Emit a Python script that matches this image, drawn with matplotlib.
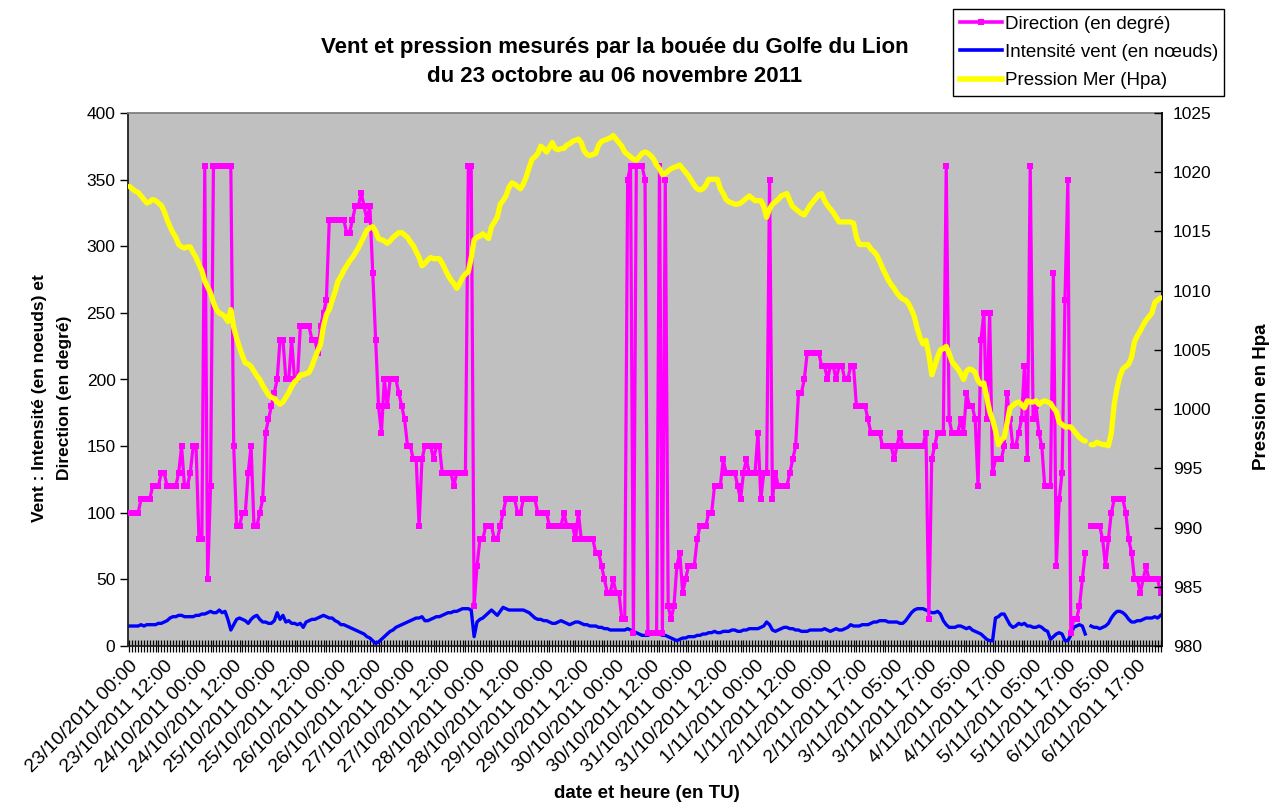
import numpy as np
import matplotlib
matplotlib.use("Agg")
import matplotlib.pyplot as plt
from matplotlib.lines import Line2D

plt.rcParams["font.family"] = ["Liberation Sans", "DejaVu Sans"]

nan = float("nan")

# -----------------------------------------------------------------------------
# Data (one value per hourly record)
# -----------------------------------------------------------------------------

dateLabels = [
    "23/10/2011 00:00", "23/10/2011 12:00", "24/10/2011 00:00", "24/10/2011 12:00",
    "25/10/2011 00:00", "25/10/2011 12:00", "26/10/2011 00:00", "26/10/2011 12:00",
    "27/10/2011 00:00", "27/10/2011 12:00", "28/10/2011 00:00", "28/10/2011 12:00",
    "29/10/2011 00:00", "29/10/2011 12:00", "30/10/2011 00:00", "30/10/2011 12:00",
    "31/10/2011 00:00", "31/10/2011 12:00", "1/11/2011 00:00", "1/11/2011 12:00",
    "2/11/2011 00:00", "2/11/2011 17:00", "3/11/2011 05:00", "3/11/2011 17:00",
    "4/11/2011 05:00", "4/11/2011 17:00", "5/11/2011 05:00", "5/11/2011 17:00",
    "6/11/2011 05:00", "6/11/2011 17:00",
]

direction = [
    100, 100, 100, 100, 110, 110, 110, 110, 120, 120, 120, 130,
    130, 120, 120, 120, 120, 130, 150, 120, 120, 130, 150, 150,
    80, 80, 360, 50, 120, 360, 360, 360, 360, 360, 360, 360,
    150, 90, 90, 100, 100, 130, 150, 90, 90, 100, 110, 160,
    170, 180, 190, 200, 230, 230, 200, 200, 230, 200, 200, 240,
    240, 240, 240, 230, 230, 220, 240, 250, 260, 320, 320, 320,
    320, 320, 320, 310, 310, 320, 330, 330, 340, 330, 320, 330,
    280, 230, 180, 160, 200, 180, 200, 200, 200, 190, 180, 170,
    150, 150, 140, 140, 90, 140, 150, 150, 150, 140, 150, 150,
    130, 130, 130, 130, 120, 130, 130, 130, 130, 360, 360, 30,
    60, 80, 80, 90, 90, 90, 80, 80, 90, 100, 110, 110,
    110, 110, 100, 100, 110, 110, 110, 110, 110, 100, 100, 100,
    100, 90, 90, 90, 90, 90, 100, 90, 90, 90, 80, 100,
    80, 80, 80, 80, 80, 70, 70, 60, 50, 40, 40, 50,
    40, 40, 20, 20, 350, 360, 10, 360, 360, 360, 350, 10,
    10, 10, 10, 360, 10, 350, 30, 20, 30, 60, 70, 40,
    50, 60, 60, 60, 80, 90, 90, 90, 100, 100, 120, 120,
    120, 140, 130, 130, 130, 130, 120, 110, 130, 140, 130, 130,
    130, 160, 110, 130, 130, 350, 110, 130, 120, 120, 120, 120,
    130, 140, 150, 190, 190, 200, 220, 220, 220, 220, 220, 210,
    210, 200, 210, 210, 200, 210, 210, 200, 200, 210, 210, 180,
    180, 180, 180, 170, 160, 160, 160, 160, 150, 150, 150, 150,
    140, 150, 160, 150, 150, 150, 150, 150, 150, 150, 150, 160,
    20, 140, 150, 160, 160, 160, 360, 170, 160, 160, 160, 170,
    160, 190, 180, 180, 170, 120, 230, 250, 170, 250, 130, 140,
    140, 140, 150, 190, 170, 150, 150, 160, 170, 210, 140, 360,
    170, 180, 160, 150, 120, 120, 120, 280, 60, 110, 130, 260,
    350, 10, 20, 20, 30, 50, 70, nan, 90, 90, 90, 90,
    80, 60, 80, 100, 110, 110, 110, 110, 100, 80, 70, 50,
    50, 40, 50, 60, 50, 50, 50, 50, 40,
]

intensity = [
    15, 15, 15, 15, 16, 15, 16, 16, 16, 16, 17, 17,
    18, 19, 21, 22, 22, 23, 23, 22, 22, 22, 22, 23,
    23, 24, 24, 25, 26, 25, 25, 27, 25, 26, 20, 12,
    16, 20, 21, 20, 19, 17, 20, 22, 23, 20, 18, 18,
    17, 17, 19, 25, 20, 23, 18, 19, 17, 17, 16, 17,
    14, 18, 19, 20, 20, 21, 22, 23, 22, 21, 21, 19,
    18, 16, 16, 15, 14, 13, 12, 11, 10, 9, 7, 6,
    4, 2, 3, 5, 7, 9, 11, 12, 14, 15, 16, 17,
    18, 19, 20, 21, 21, 22, 19, 19, 20, 21, 22, 22,
    23, 24, 25, 25, 26, 26, 27, 28, 28, 28, 27, 7,
    18, 20, 21, 23, 25, 27, 25, 23, 26, 29, 28, 27,
    27, 27, 27, 27, 27, 26, 25, 23, 21, 20, 20, 19,
    19, 18, 17, 17, 18, 19, 18, 17, 16, 17, 18, 18,
    17, 16, 16, 15, 15, 15, 14, 14, 13, 13, 12, 12,
    12, 12, 12, 12, 13, 12, 11, 10, 9, 8, 8, 8,
    9, 9, 9, 9, 8, 8, 7, 6, 5, 4, 5, 6,
    6, 7, 7, 7, 8, 8, 9, 9, 10, 10, 11, 10,
    10, 11, 11, 11, 12, 12, 11, 11, 12, 12, 13, 13,
    13, 13, 14, 15, 18, 16, 12, 11, 12, 13, 14, 14,
    13, 13, 12, 12, 11, 11, 11, 12, 12, 12, 12, 12,
    13, 12, 11, 12, 13, 12, 12, 13, 14, 16, 15, 15,
    15, 16, 16, 16, 17, 18, 18, 19, 19, 19, 18, 18,
    18, 18, 17, 17, 19, 22, 25, 27, 28, 28, 28, 27,
    26, 25, 25, 26, 24, 19, 16, 14, 14, 14, 15, 15,
    14, 13, 14, 12, 11, 10, 9, 7, 5, 4, 4, 21,
    22, 24, 24, 20, 16, 14, 15, 17, 16, 17, 15, 15,
    14, 14, 15, 14, 12, 11, 5, 7, 9, 10, 9, 4,
    4, 8, 14, 15, 16, 15, 9, nan, 15, 14, 14, 13,
    14, 15, 17, 21, 24, 26, 26, 25, 23, 20, 18, 18,
    19, 19, 20, 21, 21, 21, 22, 21, 23,
]

pressure = [
    1018.8, 1018.6, 1018.4, 1018.3, 1018.0, 1017.7, 1017.4, 1017.5, 1017.7, 1017.6, 1017.4, 1017.2,
    1016.7, 1016.0, 1015.4, 1014.9, 1014.5, 1013.9, 1013.7, 1013.6, 1013.7, 1013.7, 1013.2, 1012.8,
    1012.2, 1011.7, 1010.8, 1010.3, 1009.8, 1009.0, 1008.4, 1008.1, 1008.0, 1007.8, 1007.4, 1008.4,
    1006.9, 1006.0, 1005.2, 1004.5, 1003.9, 1003.8, 1003.6, 1003.2, 1002.8, 1002.5, 1002.0, 1001.6,
    1001.2, 1001.0, 1000.9, 1000.6, 1000.4, 1000.6, 1001.0, 1001.4, 1001.9, 1002.3, 1002.5, 1002.9,
    1002.9, 1003.0, 1003.1, 1003.6, 1004.3, 1004.9, 1005.5, 1007.0, 1008.0, 1008.4, 1009.2, 1009.9,
    1010.8, 1011.2, 1011.7, 1012.1, 1012.5, 1012.8, 1013.2, 1013.6, 1014.1, 1014.6, 1015.1, 1015.3,
    1015.4, 1015.0, 1014.4, 1014.3, 1014.2, 1014.0, 1014.2, 1014.5, 1014.7, 1014.9, 1014.9, 1014.7,
    1014.5, 1014.1, 1013.8, 1013.3, 1012.8, 1012.1, 1012.3, 1012.6, 1012.8, 1012.7, 1012.7, 1012.7,
    1012.3, 1011.8, 1011.3, 1010.9, 1010.6, 1010.2, 1010.6, 1011.1, 1011.4, 1011.6, 1012.8, 1014.3,
    1014.5, 1014.6, 1014.8, 1014.6, 1014.4, 1015.4, 1015.8, 1016.2, 1017.3, 1017.6, 1018.0, 1018.7,
    1019.1, 1019.0, 1018.8, 1018.6, 1019.0, 1019.6, 1020.4, 1021.1, 1021.3, 1021.6, 1022.2, 1022.0,
    1021.7, 1022.1, 1022.5, 1022.0, 1021.9, 1022.0, 1022.0, 1022.3, 1022.4, 1022.6, 1022.7, 1022.8,
    1022.5, 1021.8, 1021.5, 1021.4, 1021.5, 1021.6, 1022.3, 1022.6, 1022.7, 1022.8, 1022.9, 1023.1,
    1022.8, 1022.5, 1022.2, 1021.7, 1021.5, 1021.3, 1021.1, 1021.0, 1021.3, 1021.6, 1021.7, 1021.6,
    1021.4, 1021.1, 1020.6, 1020.3, 1019.8, 1019.9, 1020.1, 1020.3, 1020.4, 1020.5, 1020.6, 1020.3,
    1020.0, 1019.7, 1019.3, 1018.9, 1018.6, 1018.5, 1018.6, 1018.9, 1019.4, 1019.4, 1019.4, 1019.4,
    1018.6, 1018.2, 1017.7, 1017.5, 1017.4, 1017.3, 1017.3, 1017.4, 1017.6, 1017.8, 1018.0, 1017.8,
    1017.6, 1017.6, 1017.6, 1017.1, 1016.2, 1016.9, 1017.3, 1017.5, 1017.7, 1018.0, 1018.1, 1018.2,
    1017.6, 1017.1, 1016.9, 1016.7, 1016.5, 1016.4, 1016.8, 1017.2, 1017.5, 1017.8, 1018.1, 1018.2,
    1017.6, 1017.2, 1016.9, 1016.6, 1016.2, 1015.8, 1015.8, 1015.8, 1015.8, 1015.8, 1015.7, 1014.5,
    1013.9, 1013.9, 1013.9, 1013.9, 1013.5, 1013.3, 1013.0, 1012.5, 1011.9, 1011.4, 1010.9, 1010.5,
    1010.2, 1009.8, 1009.5, 1009.3, 1009.2, 1008.9, 1008.4, 1007.8, 1006.8, 1006.0, 1005.5, 1005.8,
    1004.6, 1002.9, 1003.6, 1004.4, 1005.0, 1005.1, 1005.3, 1004.7, 1004.0, 1003.7, 1003.4, 1003.0,
    1002.5, 1003.2, 1003.4, 1003.3, 1003.1, 1002.4, 1002.1, 1002.2, 1001.0, 999.8, 999.1, 998.2,
    997.0, 997.4, 997.6, 998.8, 1000.1, 1000.3, 1000.5, 1000.6, 1000.4, 1000.1, 1000.7, 1000.6,
    1000.6, 1000.7, 1000.4, 1000.6, 1000.7, 1000.6, 1000.5, 1000.1, 999.8, 998.9, 998.7, 998.5,
    998.5, 998.5, 998.2, 997.9, 997.6, 997.4, 997.3, nan, 997.0, 997.0, 997.2, 997.1,
    997.0, 997.0, 996.9, 998.0, 1000.4, 1001.8, 1002.8, 1003.4, 1003.6, 1003.8, 1004.4, 1005.7,
    1006.2, 1006.6, 1007.1, 1007.5, 1007.8, 1008.1, 1009.0, 1009.2, 1009.4,
]

labelStep = 12

# -----------------------------------------------------------------------------
# Figure
# -----------------------------------------------------------------------------

W, H = 1270, 805
fig = plt.figure(figsize=(W / 100, H / 100), dpi=100)

def px(x, y):
    """Pixel position (from top left) to figure fraction."""
    return x / W, 1 - y / H

left, top, right, bottom = 128, 113, 1162, 646
ax = fig.add_axes([left / W, 1 - bottom / H, (right - left) / W, (bottom - top) / H])
ax.set_facecolor("#C0C0C0")

n = len(direction)
x = np.arange(n)

ax.plot(x, intensity, color="#0000FF", lw=2.4, zorder=2)
ax.plot(x, direction, color="#FF00FF", lw=2.3, marker="s", ms=4.4,
        markeredgewidth=0, zorder=3)

ax.set_xlim(-0.5, n - 0.5)
ax.set_ylim(0, 400)
ax.set_yticks(range(0, 401, 50))

ax.set_xticks(np.arange(0, n, labelStep))
ax.set_xticklabels(dateLabels, rotation=45, ha="right", va="top",
                   rotation_mode="anchor", fontsize=14)
ax.set_xticks(np.arange(n), minor=True)
ax.tick_params(axis="x", which="both", direction="inout", length=8, width=0.9,
               color="black", pad=4)
ax.tick_params(axis="y", direction="out", length=6, width=1, labelsize=12.5, pad=3)

for side in ("left", "bottom"):
    ax.spines[side].set_color("#202020")
    ax.spines[side].set_linewidth(1.3)
ax.spines["top"].set_color("#808080")
ax.spines["top"].set_linewidth(1.3)
ax.spines["right"].set_visible(False)

ax2 = ax.twinx()
ax2.plot(x, pressure, color="#FFFF00", lw=3.8, solid_capstyle="round", zorder=4)
ax2.set_ylim(980, 1025)
ax2.set_yticks(range(980, 1026, 5))
ax2.tick_params(axis="y", direction="in", length=6, width=1, labelsize=12.5, pad=8)
ax2.spines["right"].set_color("black")
ax2.spines["right"].set_linewidth(1.3)
for side in ("left", "top", "bottom"):
    ax2.spines[side].set_visible(False)

# -----------------------------------------------------------------------------
# Texts
# -----------------------------------------------------------------------------

fig.text(*px(615, 48), "Vent et pression mesurés par la bouée du Golfe du Lion",
         ha="center", va="center", fontsize=16, fontweight="bold")
fig.text(*px(615, 76), "du 23 octobre au 06 novembre 2011",
         ha="center", va="center", fontsize=16, fontweight="bold")

fig.text(*px(647, 793), "date et heure (en TU)", ha="center", va="center",
         fontsize=13.5, fontweight="bold")
fig.text(*px(40, 398), "Vent : Intensité (en noeuds) et", ha="center", va="center",
         rotation=90, fontsize=12.5, fontweight="bold")
fig.text(*px(65, 398), "Direction (en degré)", ha="center", va="center",
         rotation=90, fontsize=12.5, fontweight="bold")
fig.text(*px(1262, 397), "Pression en Hpa", ha="center", va="center",
         rotation=90, fontsize=13.5, fontweight="bold")

handles = [
    Line2D([], [], color="#FF00FF", lw=2.6, marker="s", ms=5, markeredgewidth=0),
    Line2D([], [], color="#0000FF", lw=2.6),
    Line2D([], [], color="#FFFF00", lw=4),
]
leg = fig.legend(
    handles,
    ["Direction (en degré)", "Intensité vent (en nœuds)", "Pression Mer (Hpa)"],
    loc="upper left", bbox_to_anchor=px(953, 9),
    frameon=True, fancybox=False, edgecolor="black", framealpha=1,
    fontsize=13.5, handlelength=2.25, handletextpad=0.15,
    labelspacing=0.6, borderpad=0.35, borderaxespad=0,
)
leg.get_frame().set_linewidth(1.0)

fig.savefig("out.png", dpi=100)
